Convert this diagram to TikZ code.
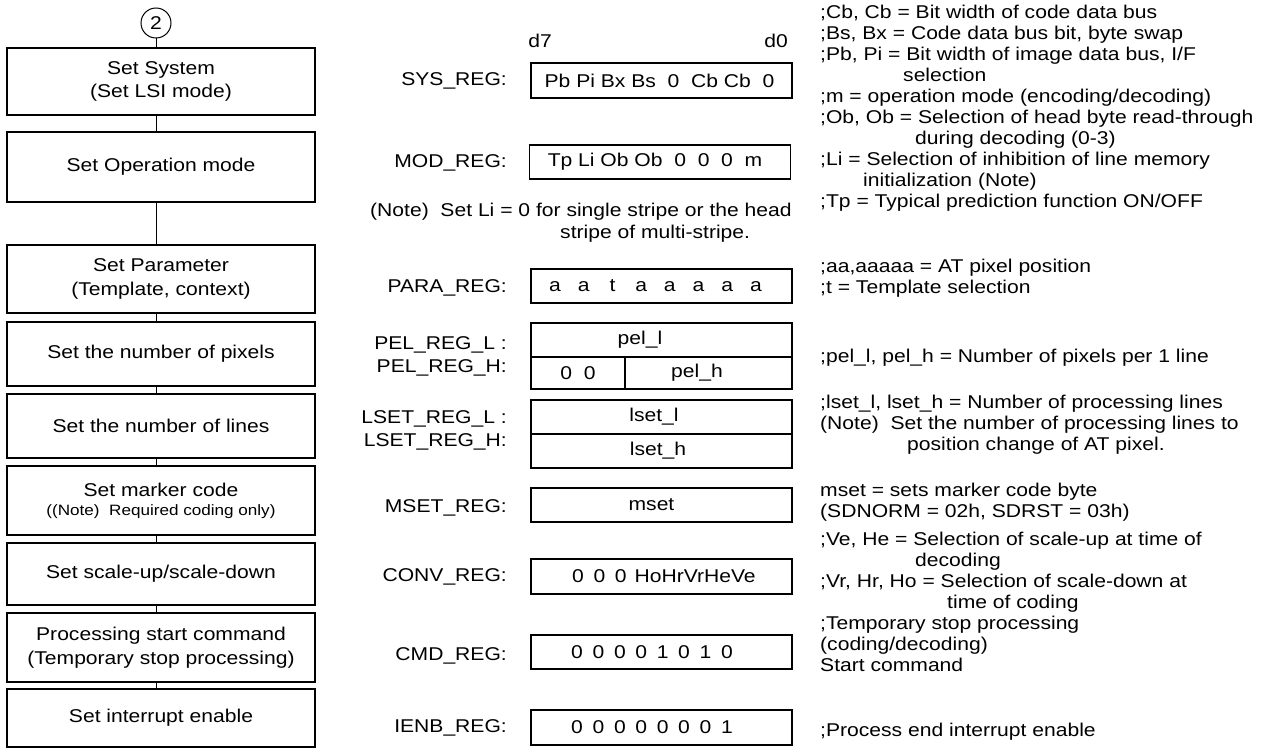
\documentclass[tikz,border=0pt]{standalone}
\usepackage{fontspec}
\setmainfont{Liberation Sans}[FakeStretch=1.14]
\newcommand\myfs{\fontsize{18.5}{20.7}\selectfont}
\newcommand\mysmall{\fontsize{15}{17}\selectfont}
\newcommand\bxa[1]{\makebox[21.4pt]{#1}}
\newcommand\bxb[1]{\makebox[28.7pt]{#1}}
\begin{document}
\begin{tikzpicture}[x=1pt,y=-1pt,
  font=\myfs,
  flowbox/.style={draw, line width=1.1pt, minimum width=308pt, minimum height=#1, align=center, inner sep=0pt},
  regbox/.style={draw, line width=1.1pt, minimum width=#1, inner sep=0pt},
  conn/.style={line width=1pt},
  lbl/.style={anchor=east, inner sep=0pt},
  txt/.style={anchor=base west, inner sep=0pt}]
\useasboundingbox (0,0) rectangle (1274,749);

% flow column
\node[draw, circle, minimum size=30pt, inner sep=0pt, line width=1pt] (c2) at (156,23) {2};
\node[flowbox=67pt] (b1) at (161,81.5) {Set System\\[3pt](Set LSI mode)};
\node[flowbox=70pt] (b2) at (161,167) {Set Operation mode};
\node[flowbox=68pt] (b3) at (161,279) {Set Parameter\\[3pt](Template, context)};
\node[flowbox=64pt] (b4) at (161,354) {Set the number of pixels};
\node[flowbox=64pt] (b5) at (161,426) {Set the number of lines};
\node[flowbox=69pt] (b6) at (161,500.5) {Set marker code\\[-2pt]{\mysmall((Note)\ \ Required coding only)}};
\node[flowbox=62pt] (b7) at (161,574) {Set scale-up/scale-down};
\node[flowbox=69pt] (b8) at (161,647.5) {Processing start command\\[3pt](Temporary stop processing)};
\node[flowbox=58pt] (b9) at (161,718) {Set interrupt enable};

\draw[conn] (c2) -- (b1.north -| c2);
\draw[conn] (b1.south -| c2) -- (b2.north -| c2);
\draw[conn] (b2.south -| c2) -- (b3.north -| c2);
\draw[conn] (b3.south -| c2) -- (b4.north -| c2);
\draw[conn] (b4.south -| c2) -- (b5.north -| c2);
\draw[conn] (b5.south -| c2) -- (b6.north -| c2);
\draw[conn] (b6.south -| c2) -- (b7.north -| c2);
\draw[conn] (b7.south -| c2) -- (b8.north -| c2);
\draw[conn] (b8.south -| c2) -- (b9.north -| c2);

% register column
\node (d7) at (540,41) {d7};
\node (d0) at (776,41) {d0};
\node[regbox=261pt, minimum height=35pt] (sys) at (661.5,80.5) {Pb Pi Bx Bs~~0~~Cb Cb~~0\hspace*{4pt}};
\node[regbox=261pt, minimum height=34pt] (mod) at (660,162) {Tp Li Ob Ob~~0~~0~~0~~m\hspace*{10pt}};
\node[regbox=261pt, minimum height=34pt] (para) at (661.5,286) {\bxb{a}\bxb{a}\bxb{t}\bxb{a}\bxb{a}\bxb{a}\bxb{a}\bxb{a}\hspace*{12pt}};
\node[regbox=261pt, minimum height=34pt] (pell) at (661.5,340) {pel\_l\hspace*{43pt}};
\node[regbox=94pt, minimum height=32pt] (pelz) at (578,373) {0\ \ 0};
\node[regbox=167pt, minimum height=32pt] (pelh) at (708.5,373) {pel\_h\hspace*{23pt}};
\node[regbox=261pt, minimum height=34pt] (lsetl) at (661.5,417) {lset\_l\hspace*{15pt}};
\node[regbox=261pt, minimum height=34pt] (lseth) at (661.5,451) {lset\_h\hspace*{7pt}};
\node[regbox=261pt, minimum height=34pt] (mset) at (661.5,505) {mset\hspace*{20pt}};
\node[regbox=261pt, minimum height=35pt] (conv) at (661.5,576.5) {\bxa{0}\bxa{0}\bxa{0}\,HoHrVrHeVe};
\node[regbox=261pt, minimum height=34pt] (cmd) at (661.5,652) {\bxa{0}\bxa{0}\bxa{0}\bxa{0}\bxa{1}\bxa{0}\bxa{1}\bxa{0}\hspace*{19pt}};
\node[regbox=261pt, minimum height=35pt] (ienb) at (661.5,727.5) {\bxa{0}\bxa{0}\bxa{0}\bxa{0}\bxa{0}\bxa{0}\bxa{0}\bxa{1}\hspace*{19pt}};

\node[lbl] (lsys) at (507,81) {SYS\_REG:};
\node[lbl] (lmod) at (507,163) {MOD\_REG:};
\node[lbl] (lpara) at (507,288) {PARA\_REG:};
\node[lbl] (lpell) at (507,345) {PEL\_REG\_L :};
\node[lbl] (lpelh) at (507,368) {PEL\_REG\_H:};
\node[lbl] (llsetl) at (507,419) {LSET\_REG\_L :};
\node[lbl] (llseth) at (507,442) {LSET\_REG\_H:};
\node[lbl] (lmset) at (507,508) {MSET\_REG:};
\node[lbl] (lconv) at (507,577) {CONV\_REG:};
\node[lbl] (lcmd) at (507,656) {CMD\_REG:};
\node[lbl] (lienb) at (507,728) {IENB\_REG:};

\node[txt] (note1) at (370,216.5) {(Note)\ \ Set Li = 0 for single stripe or the head};
\node[txt] (note2) at (560,238) {stripe of multi-stripe.};

% comment column
\node[txt] (r1) at (820,18.5) {;Cb, Cb = Bit width of code data bus};
\node[txt] (r2) at (820,39.5) {;Bs, Bx = Code data bus bit, byte swap};
\node[txt] (r3) at (820,60.5) {;Pb, Pi = Bit width of image data bus, I/F};
\node[txt] (r4) at (903,81.5) {selection};
\node[txt] (r5) at (820,102.5) {;m = operation mode (encoding/decoding)};
\node[txt] (r6) at (820,123.5) {;Ob, Ob = Selection of head byte read-through};
\node[txt] (r7) at (915,144.5) {during decoding (0-3)};
\node[txt] (r8) at (820,165.5) {;Li = Selection of inhibition of line memory};
\node[txt] (r9) at (863,186.5) {initialization (Note)};
\node[txt] (r10) at (820,207.5) {;Tp = Typical prediction function ON/OFF};

\node[txt] (r11) at (820,272.5) {;aa,aaaaa = AT pixel position};
\node[txt] (r12) at (820,293.5) {;t = Template selection};
\node[txt] (r13) at (820,362.5) {;pel\_l, pel\_h = Number of pixels per 1 line};
\node[txt] (r14) at (820,408.5) {;lset\_l, lset\_h = Number of processing lines};
\node[txt] (r15) at (820,429.5) {(Note)\ \ Set the number of processing lines to};
\node[txt] (r16) at (907,450.5) {position change of AT pixel.};
\node[txt] (r17) at (820,496.5) {mset = sets marker code byte};
\node[txt] (r18) at (820,517.5) {(SDNORM = 02h, SDRST = 03h)};
\node[txt] (r19) at (820,545.5) {;Ve, He = Selection of scale-up at time of};
\node[txt] (r20) at (915,566.5) {decoding};
\node[txt] (r21) at (820,587.5) {;Vr, Hr, Ho = Selection of scale-down at};
\node[txt] (r22) at (947,608.5) {time of coding};
\node[txt] (r23) at (820,629.5) {;Temporary stop processing};
\node[txt] (r24) at (820,650.5) {(coding/decoding)};
\node[txt] (r25) at (820,671.5) {Start command};
\node[txt] (r26) at (820,736.5) {;Process end interrupt enable};
\end{tikzpicture}
\end{document}
